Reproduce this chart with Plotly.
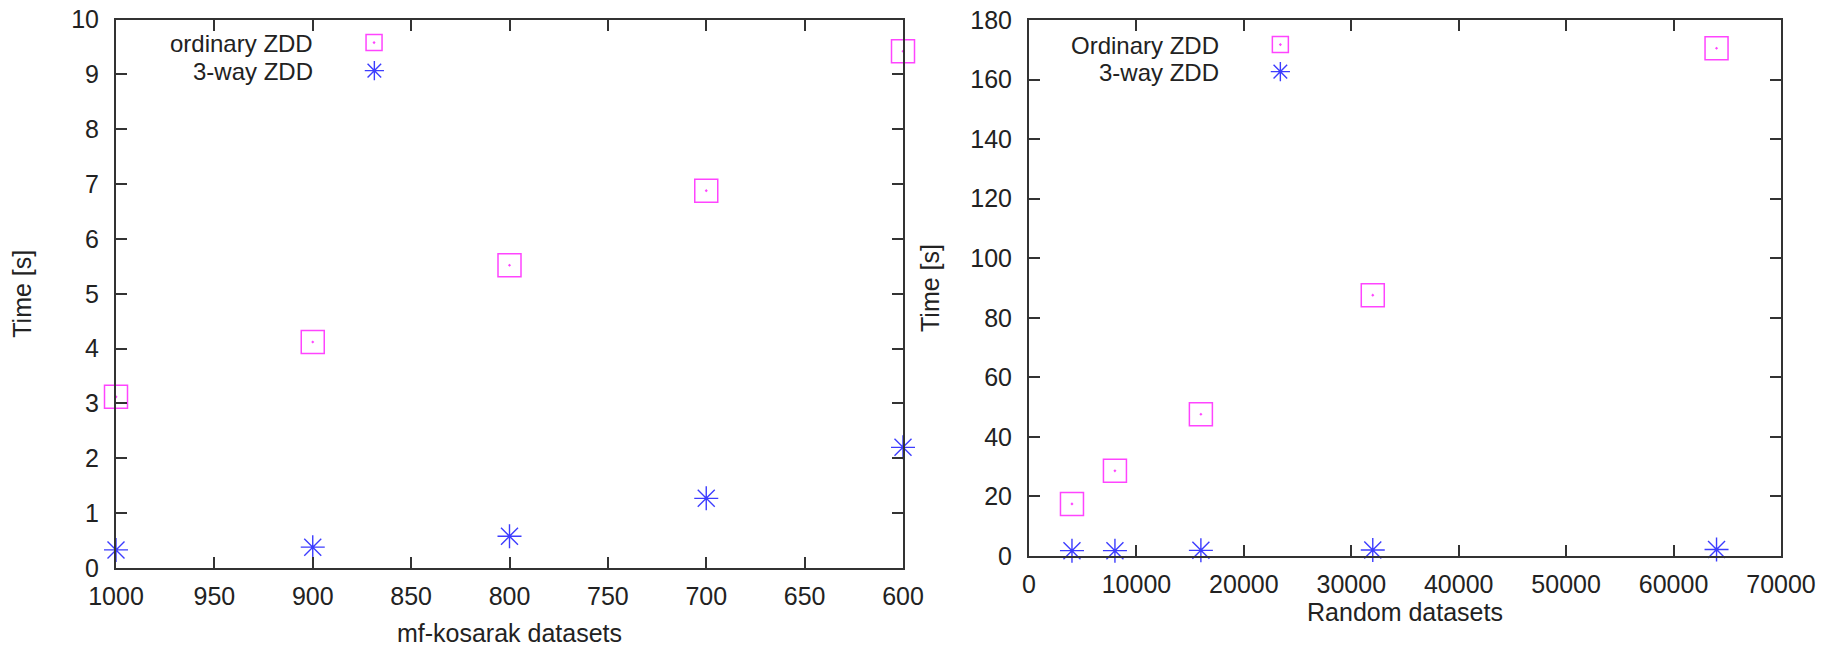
import plotly.graph_objects as go

# ---- data ----
kosarak_x = [1000, 900, 800, 700, 600]
kosarak_ordinary = [3.12, 4.12, 5.52, 6.88, 9.42]
kosarak_3way = [0.33, 0.38, 0.58, 1.27, 2.2]

random_x = [4000, 8000, 16000, 32000, 64000]
random_ordinary = [17.5, 28.6, 47.6, 87.6, 170.5]
random_3way = [1.8, 1.8, 1.9, 2.0, 2.2]

label_ordinary_left = "ordinary ZDD"
label_ordinary_right = "Ordinary ZDD"
label_3way = "3-way ZDD"

W, H = 1838, 647
FONT = "Liberation Sans, Arial, Helvetica, sans-serif"
FS = 25
LFS = 24
TXT = "#222222"
MAGENTA = "#ff44ff"
BLUE = "#3c3cff"
PAD = "\u00a0" * 5


def px_x(p):
    return p / W


def px_y(p):
    return 1 - p / H


fig = go.Figure()

sq = dict(symbol="square-open-dot", size=23, color=MAGENTA, line=dict(color=MAGENTA, width=1.5))
st = dict(symbol="asterisk-open", size=20, color=BLUE, line=dict(color=BLUE, width=1.4))

fig.add_trace(go.Scatter(x=kosarak_x, y=kosarak_ordinary, mode="markers", marker=sq,
                         name="", legend="legend", xaxis="x", yaxis="y", cliponaxis=False))
fig.add_trace(go.Scatter(x=kosarak_x, y=kosarak_3way, mode="markers", marker=st,
                         name="", legend="legend2", xaxis="x", yaxis="y", cliponaxis=False))
fig.add_trace(go.Scatter(x=random_x, y=random_ordinary, mode="markers", marker=sq,
                         name="", legend="legend3", xaxis="x2", yaxis="y2", cliponaxis=False))
fig.add_trace(go.Scatter(x=random_x, y=random_3way, mode="markers", marker=st,
                         name="", legend="legend4", xaxis="x2", yaxis="y2", cliponaxis=False))

axis_common = dict(
    showline=True, linecolor="#333333", linewidth=2, mirror="ticks",
    ticks="inside", ticklen=11, tickwidth=2, tickcolor="#333333",
    showgrid=False, zeroline=False, automargin=False,
    tickfont=dict(family=FONT, size=FS, color=TXT),
    title_font=dict(family=FONT, size=FS, color=TXT),
)

fig.update_layout(
    width=W, height=H,
    margin=dict(l=0, r=0, t=0, b=0),
    paper_bgcolor="white", plot_bgcolor="white",
    font=dict(family=FONT, size=FS, color=TXT),
    xaxis=dict(domain=[px_x(116), px_x(903)], range=[1000, 600], dtick=50, anchor="y",
               title=dict(text="mf-kosarak datasets", standoff=16), ticklabelstandoff=5,
               **axis_common),
    yaxis=dict(domain=[px_y(568), px_y(19.5)], range=[0, 10], dtick=1, anchor="x",
               title=dict(text="Time [s]", standoff=32), ticklabelstandoff=10,
               **axis_common),
    xaxis2=dict(domain=[px_x(1029), px_x(1781)], range=[0, 70000], dtick=10000, anchor="y2",
                tickformat="d",
                title=dict(text="Random datasets", standoff=4), ticklabelstandoff=5,
                **axis_common),
    yaxis2=dict(domain=[px_y(556), px_y(20)], range=[0, 180], dtick=20, anchor="x2",
                title=dict(text="Time [s]", standoff=24), ticklabelstandoff=10,
                **axis_common),
    showlegend=True,
)

leg_common = dict(bgcolor="rgba(0,0,0,0)", borderwidth=0, xanchor="right", yanchor="middle",
                  font=dict(family=FONT, size=LFS, color=TXT), itemsizing="trace")
ttl_font = dict(family=FONT, size=LFS, color=TXT)

fig.update_layout(
    legend=dict(x=px_x(400), y=px_y(43),
                title=dict(text=label_ordinary_left + PAD, side="left", font=ttl_font), **leg_common),
    legend2=dict(x=px_x(400), y=px_y(71),
                 title=dict(text=label_3way + PAD, side="left", font=ttl_font), **leg_common),
    legend3=dict(x=px_x(1306), y=px_y(45),
                 title=dict(text=label_ordinary_right + PAD, side="left", font=ttl_font), **leg_common),
    legend4=dict(x=px_x(1306), y=px_y(72),
                 title=dict(text=label_3way + PAD, side="left", font=ttl_font), **leg_common),
)

fig.write_html(
    "out.html",
    config={"displayModeBar": False},
    post_script="document.body.style.margin='0';document.body.style.overflow='hidden';",
)
